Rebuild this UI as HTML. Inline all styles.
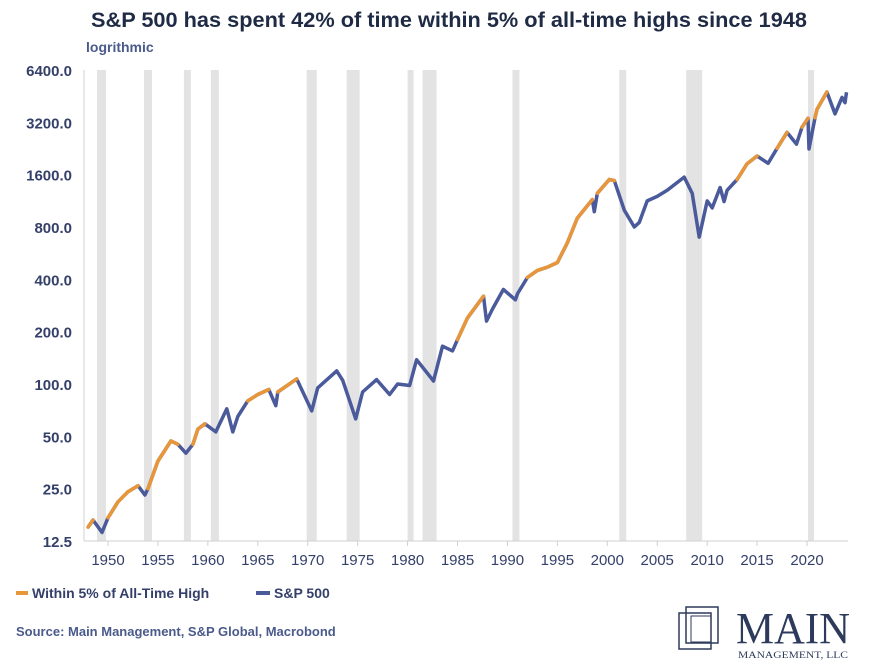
<!DOCTYPE html>
<html><head><meta charset="utf-8"><style>
body{margin:0;background:#fff;width:875px;height:669px;overflow:hidden;font-family:"Liberation Sans",sans-serif;}
</style></head><body>
<svg id="chart" width="875" height="669" style="position:absolute;left:0;top:0">
<text x="449" y="27" text-anchor="middle" font-size="21.5" font-weight="bold" fill="#1f2a44" textLength="716" lengthAdjust="spacingAndGlyphs">S&amp;P 500 has spent 42% of time within 5% of all-time highs since 1948</text>
<text x="86" y="52" font-size="14" font-weight="bold" fill="#4a5a8a">logrithmic</text>
<g id="rec"></g><g id="axes"></g><g id="lines"></g>
<g>
<line x1="16" y1="593" x2="28" y2="593" stroke="#e8963a" stroke-width="4"/>
<text x="32" y="598" font-size="14" font-weight="bold" fill="#34406a">Within 5% of All-Time High</text>
<line x1="256" y1="593" x2="270" y2="593" stroke="#4a5a9a" stroke-width="4"/>
<text x="274" y="598" font-size="14" font-weight="bold" fill="#34406a">S&amp;P 500</text>
</g>
<text x="16" y="636" font-size="13" font-weight="bold" fill="#4a5a8a">Source: Main Management, S&amp;P Global, Macrobond</text>
<g>
<rect x="679" y="613" width="32" height="36" fill="none" stroke="#2e3a5c" stroke-width="1.5"/>
<rect x="686" y="607" width="32" height="36" fill="none" stroke="#2e3a5c" stroke-width="1.5"/>
<rect x="691" y="616" width="20" height="26" fill="none" stroke="#2e3a5c" stroke-width="1"/>
<text x="736" y="643" font-family="Liberation Serif,serif" font-size="44" fill="#2e3a5c" textLength="114" lengthAdjust="spacingAndGlyphs">MAIN</text>
<text x="738" y="658" font-family="Liberation Serif,serif" font-size="9.5" fill="#2e3a5c" textLength="110" lengthAdjust="spacingAndGlyphs">MANAGEMENT, LLC</text>
</g>
</svg>
<script>
const yTicks=[12.5,25,50,100,200,400,800,1600,3200,6400];
const xTicks=[1950,1955,1960,1965,1970,1975,1980,1985,1990,1995,2000,2005,2010,2015,2020];
const recessions=[[1948.9,1949.8],[1953.6,1954.4],[1957.6,1958.3],[1960.3,1961.1],[1969.9,1970.9],[1973.9,1975.2],[1980.0,1980.5],[1981.5,1982.9],[1990.5,1991.2],[2001.2,2001.9],[2007.9,2009.5],[2020.1,2020.3]];
const years=[1948,1948.5,1949.4,1950,1951,1952,1953,1953.7,1954,1955,1956.3,1957,1957.8,1958.5,1959,1959.7,1960.8,1961.9,1962.5,1963,1964,1965,1966.1,1966.8,1967,1968.9,1970.4,1971,1972.9,1973.5,1974.8,1975.5,1976.9,1978.2,1979,1980.2,1980.9,1982.6,1983.5,1984.5,1985,1986,1987.6,1987.9,1988.5,1989.6,1990.8,1991,1992,1993,1994,1995,1996,1997,1998.5,1998.7,1999,2000.2,2000.7,2001.7,2002.7,2003.2,2004,2005,2006,2007.7,2008.5,2009.2,2010,2010.5,2011.3,2011.7,2012,2013,2014,2015,2016.1,2017,2018,2018.95,2019.5,2020.1,2020.2,2020.8,2021,2021.99,2022.8,2023.5,2023.8,2023.95];
const values=[15,16.5,14,17,21,24,26,23,25,36,47,45,40,45,55,59,53,72,53,65,80,87,93,75,90,107,70,95,119,105,63,90,106,87,100,98,138,104,165,155,180,240,320,230,270,350,305,330,410,450,470,500,650,900,1150,980,1250,1500,1480,1000,800,850,1130,1200,1300,1550,1250,700,1130,1030,1350,1120,1300,1500,1850,2050,1860,2270,2800,2400,3000,3380,2250,3400,3800,4780,3580,4450,4150,4770];
const NS="http://www.w3.org/2000/svg";
const X0=84,X1=843,Y0=70,Y1=541;
const xs=y=>108+(y-1950)*9.986;
const ys=v=>Y1-(Math.log2(v/12.5))*(Y1-Y0)/9;
function mk(p,t,a){const e=document.createElementNS(NS,t);for(const k in a)e.setAttribute(k,a[k]);p.appendChild(e);return e;}
const rec=document.getElementById('rec'),ax=document.getElementById('axes'),ln=document.getElementById('lines');
recessions.forEach(r=>{const e=mk(rec,'rect',{x:xs(r[0]),y:Y0,width:Math.max(xs(r[1])-xs(r[0]),6),height:Y1-Y0,fill:'#e3e3e3'});

});
mk(ax,'line',{x1:X0,y1:Y1,x2:X1+5,y2:Y1,stroke:'#d0d0d0'});
mk(ax,'line',{x1:X0,y1:Y0,x2:X0,y2:Y1,stroke:'#d0d0d0'});
yTicks.forEach(v=>{const t=mk(ax,'text',{x:X0-12,y:ys(v)+6,'text-anchor':'end','font-size':15,'font-weight':'bold',fill:'#34406a'});t.textContent=v.toFixed(1);

});
xTicks.forEach(y=>{mk(ax,'line',{x1:xs(y),y1:Y1,x2:xs(y),y2:Y1+5,stroke:'#d0d0d0'});const t=mk(ax,'text',{x:xs(y),y:Y1+24,'text-anchor':'middle','font-size':15,fill:'#34406a'});t.textContent=y;

});
const pts=years.map((y,i)=>xs(y).toFixed(1)+','+ys(values[i]).toFixed(1)).join(' ');
const bl=mk(ln,'polyline',{points:pts,fill:'none',stroke:'#4a5a9a','stroke-width':3.5,'stroke-linejoin':'round'});


let mx=0;const near=values.map(v=>{mx=Math.max(mx,v);return v>=mx*0.95;});
for(let i=1;i<years.length;i++){if(near[i]&&near[i-1]){const s=mk(ln,'line',{x1:xs(years[i-1]),y1:ys(values[i-1]),x2:xs(years[i]),y2:ys(values[i]),stroke:'#e8963a','stroke-width':3.5,'stroke-linecap':'round'});

}}
</script>
</body></html>
